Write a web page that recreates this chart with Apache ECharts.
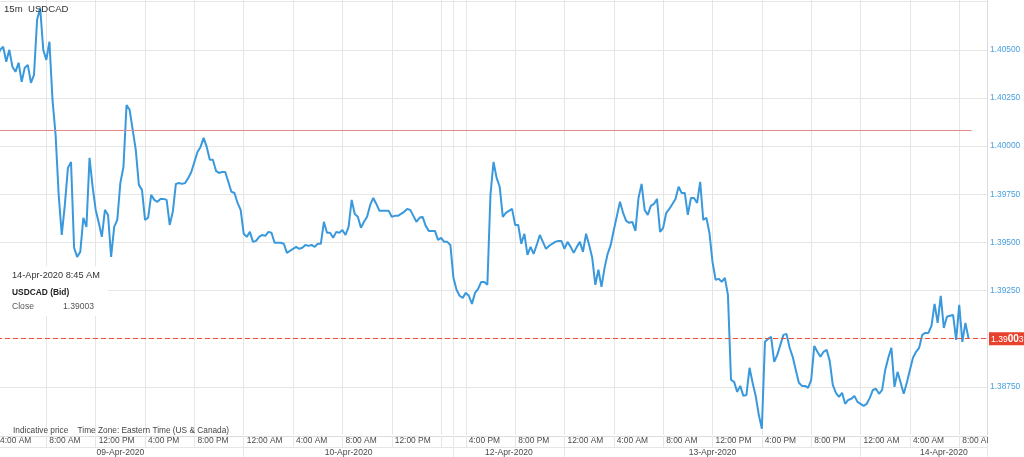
<!DOCTYPE html>
<html>
<head>
<meta charset="utf-8">
<script src="https://cdn.jsdelivr.net/npm/echarts@6/dist/echarts.min.js"></script>
<style>
html,body{margin:0;padding:0;background:#fff;}
#c{width:1024px;height:457px;}
</style>
</head>
<body>
<div id="c"></div>
<script>
// 15-minute sessions: [start, number of bars]
const sessions = [['2020-04-09T04:00', 148], ['2020-04-12T15:00', 174]];

const closes = [
1.40458,1.40500,1.40516,1.40438,1.40500,1.40412,1.40386,1.40433,1.40334,1.40407,
1.40422,1.40329,1.40370,1.40656,1.40718,1.40500,1.40448,1.40542,1.40240,1.40059,
1.39747,1.39539,1.39695,1.39887,1.39918,1.39472,1.39425,1.39451,1.39628,1.39581,
1.39939,1.39789,1.39669,1.39602,1.39529,1.39669,1.39643,1.39425,1.39581,1.39617,
1.39809,1.39892,1.40214,1.40189,1.40085,1.39981,1.39799,1.39773,1.39617,1.39628,
1.39747,1.39721,1.39711,1.39726,1.39726,1.39721,1.39591,1.39659,1.39804,1.39809,
1.39804,1.39809,1.39835,1.39866,1.39918,1.39970,1.39996,1.40043,1.39996,1.39929,
1.39929,1.39872,1.39861,1.39866,1.39866,1.39815,1.39763,1.39757,1.39705,1.39669,
1.39545,1.39529,1.39555,1.39503,1.39508,1.39529,1.39539,1.39534,1.39555,1.39550,
1.39498,1.39498,1.39498,1.39493,1.39446,1.39456,1.39467,1.39477,1.39467,1.39472,
1.39487,1.39482,1.39487,1.39477,1.39493,1.39493,1.39607,1.39550,1.39550,1.39524,
1.39555,1.39550,1.39565,1.39539,1.39581,1.39721,1.39648,1.39633,1.39576,1.39607,
1.39633,1.39695,1.39731,1.39700,1.39664,1.39664,1.39664,1.39664,1.39633,1.39638,
1.39638,1.39648,1.39659,1.39674,1.39669,1.39638,1.39607,1.39628,1.39633,1.39586,
1.39560,1.39560,1.39560,1.39513,1.39524,1.39503,1.39503,1.39487,
1.39316,1.39254,1.39223,1.39212,1.39238,1.39223,1.39181,1.39238,1.39259,1.39295,
1.39295,1.39280,1.39747,1.39918,1.39835,1.39789,1.39633,1.39654,1.39664,1.39674,
1.39591,1.39591,1.39493,1.39545,1.39435,1.39477,1.39441,1.39487,1.39539,1.39503,
1.39467,1.39482,1.39493,1.39503,1.39508,1.39508,1.39467,1.39503,1.39477,1.39446,
1.39477,1.39503,1.39451,1.39545,1.39487,1.39420,1.39280,1.39358,1.39269,1.39368,
1.39441,1.39487,1.39565,1.39638,1.39711,1.39654,1.39612,1.39602,1.39607,1.39560,
1.39731,1.39804,1.39669,1.39643,1.39690,1.39700,1.39726,1.39555,1.39576,1.39654,
1.39674,1.39700,1.39726,1.39789,1.39757,1.39757,1.39643,1.39731,1.39731,1.39705,
1.39815,1.39617,1.39628,1.39550,1.39399,1.39306,1.39311,1.39295,1.39316,1.39228,
1.38786,1.38776,1.38724,1.38755,1.38703,1.38708,1.38849,1.38771,1.38703,1.38605,
1.38532,1.38984,1.38999,1.39010,1.38880,1.38916,1.38968,1.39020,1.39025,1.38953,
1.38906,1.38838,1.38771,1.38755,1.38755,1.38745,1.38786,1.38963,1.38932,1.38906,
1.38932,1.38942,1.38885,1.38760,1.38719,1.38698,1.38719,1.38662,1.38682,1.38688,
1.38703,1.38672,1.38662,1.38651,1.38662,1.38693,1.38734,1.38740,1.38714,1.38734,
1.38838,1.38901,1.38953,1.38750,1.38828,1.38771,1.38714,1.38771,1.38838,1.38901,
1.38932,1.38953,1.39020,1.39030,1.39030,1.39067,1.39181,1.39082,1.39223,1.39056,
1.39114,1.39119,1.39124,1.38994,1.39176,1.38984,1.39082,1.39003
];

const timeTicks = [0,16,32,48,64,80,96,112,128,144,148,152,168,184,200,216,232,248,264,280,296,312,321];
const timeTickLabels = ['4:00 AM','8:00 AM','12:00 PM','4:00 PM','8:00 PM','12:00 AM','4:00 AM','8:00 AM','12:00 PM','','','4:00 PM','8:00 PM','12:00 AM','4:00 AM','8:00 AM','12:00 PM','4:00 PM','8:00 PM','12:00 AM','4:00 AM','8:00 AM',''];
const dateTicks = [80,148,184,280,321];
const dateLabelIdx = [40,114,166,232,307];
const dateLabels = ['09-Apr-2020','10-Apr-2020','12-Apr-2020','13-Apr-2020','14-Apr-2020'];
const yTickLabels = [1.3875, 1.39, 1.3925, 1.395, 1.3975, 1.40, 1.4025, 1.405];

const lastClose = 1.39003;
const levelLine = 1.40082;
const levelEnd = 316;
const yMin = 1.385, yMax = 1.40759, yStep = 0.0025;

// build categories (timestamps of every 15m bar)
const categories = [];
sessions.forEach(([start, n]) => {
  const t0 = new Date(start + ':00Z').getTime();
  for (let k = 0; k < n; k++) {
    const d = new Date(t0 + k * 15 * 60000);
    categories.push(d.toISOString().slice(0, 16));
  }
});

const font = "'Liberation Sans', Arial, sans-serif";
const gridColor = '#e6e6e6';
const levelStyle = {color: '#e08a8a', type: 'solid', width: 1};

const chart = echarts.init(document.getElementById('c'), null, {renderer: 'canvas'});
chart.setOption({
  animation: false,
  backgroundColor: '#fff',
  textStyle: {fontFamily: font},
  grid: {left: -3, right: 37, top: 0, bottom: 22, containLabel: false, outerBoundsMode: 'none'},
  xAxis: [
    {
      type: 'category', data: categories, boundaryGap: false, position: 'bottom', offset: 1,
      axisLine: {show: true, lineStyle: {color: '#dcdcdc', width: 1}},
      axisTick: {show: true, length: 11, lineStyle: {color: gridColor},
        interval: (i) => timeTicks.indexOf(i) >= 0},
      splitLine: {show: true, lineStyle: {color: gridColor, width: 1},
        interval: (i) => timeTicks.indexOf(i) >= 0},
      axisLabel: {
        interval: (i) => timeTicks.indexOf(i) >= 0 && timeTickLabels[timeTicks.indexOf(i)] !== '',
        formatter: (v, i) => { const k = timeTicks.indexOf(i); return k >= 0 ? timeTickLabels[k] : ''; },
        align: 'left', margin: 1, padding: [0, 0, 0, 3], color: '#4a4a4a', fontSize: 8.4, fontFamily: font
      }
    },
    {
      type: 'category', data: categories, boundaryGap: false, position: 'bottom', offset: 12,
      axisLine: {show: true, lineStyle: {color: gridColor, width: 1}},
      axisTick: {show: true, length: 10, lineStyle: {color: gridColor},
        interval: (i) => dateTicks.indexOf(i) >= 0},
      splitLine: {show: false},
      axisLabel: {
        interval: (i) => dateLabelIdx.indexOf(i) >= 0,
        formatter: (v, i) => { const k = dateLabelIdx.indexOf(i); return k >= 0 ? dateLabels[k] : ''; },
        align: 'center', margin: 1, color: '#4a4a4a', fontSize: 8.6, fontFamily: font
      }
    }
  ],
  yAxis: {
    type: 'value', position: 'right', min: yMin, max: yMax, interval: yStep, scale: true,
    axisLine: {show: true, lineStyle: {color: '#dcdcdc'}},
    axisTick: {show: false},
    splitLine: {show: true, showMinLine: false, showMaxLine: false, lineStyle: {color: gridColor, width: 1}},
    axisLabel: {
      showMinLabel: false, showMaxLabel: false, margin: 3, color: '#4aa0e0', fontSize: 8.4, fontFamily: font,
      formatter: (v) => yTickLabels.some(t => Math.abs(t - v) < 1e-7) ? v.toFixed(5) : ''
    }
  },
  series: [{
    type: 'line', data: closes, xAxisIndex: 0, yAxisIndex: 0,
    showSymbol: false, symbol: 'none', smooth: false,
    lineStyle: {color: '#3a99dc', width: 2}, z: 3,
    markLine: {
      silent: true, symbol: ['none', 'none'], animation: false,
      data: [
        [{coord: [0, levelLine], lineStyle: levelStyle},
         {coord: [levelEnd, levelLine], lineStyle: levelStyle}],
        {yAxis: lastClose, lineStyle: {color: '#e8503e', type: [5, 3], width: 1},
          label: {show: true, position: 'end', distance: 2,
            formatter: '{a|1.39}{b|00}{c|3}',
            backgroundColor: '#e8412c', padding: [2, 2, 1, 2],
            rich: {
              a: {color: '#fff', fontSize: 8.6, fontFamily: font},
              b: {color: '#fff', fontSize: 10, fontWeight: 'bold', fontFamily: font},
              c: {color: '#fff', fontSize: 8.6, fontFamily: font}
            }}}
      ],
      lineStyle: levelStyle,
      label: {show: false}
    }
  }],
  graphic: [
    {type: 'rect', left: 988, top: 437, z: 50, shape: {width: 36, height: 10}, style: {fill: '#fff'}},
    {type: 'text', left: 4, top: 4, z: 60, style: {text: '15m  USDCAD', fill: '#333', font: '9.6px ' + font}},
    {type: 'rect', left: 0, top: 266, z: 1, shape: {width: 108, height: 50}, style: {fill: '#fff'}},
    {type: 'text', left: 12, top: 271, z: 60, style: {text: '14-Apr-2020 8:45 AM', fill: '#333', font: '9.2px ' + font}},
    {type: 'text', left: 12, top: 289, z: 60, style: {text: 'USDCAD (Bid)', fill: '#222', font: 'bold 8.4px ' + font}},
    {type: 'text', left: 12, top: 302, z: 60, style: {text: 'Close', fill: '#555', font: '8.6px ' + font}},
    {type: 'text', left: 63, top: 302, z: 60, style: {text: '1.39003', fill: '#555', font: '8.6px ' + font}},
    {type: 'text', left: 13, top: 427, z: 60, style: {text: 'Indicative price    Time Zone: Eastern Time (US & Canada)', fill: '#444', font: '8.3px ' + font}}
  ]
});
</script>
</body>
</html>
